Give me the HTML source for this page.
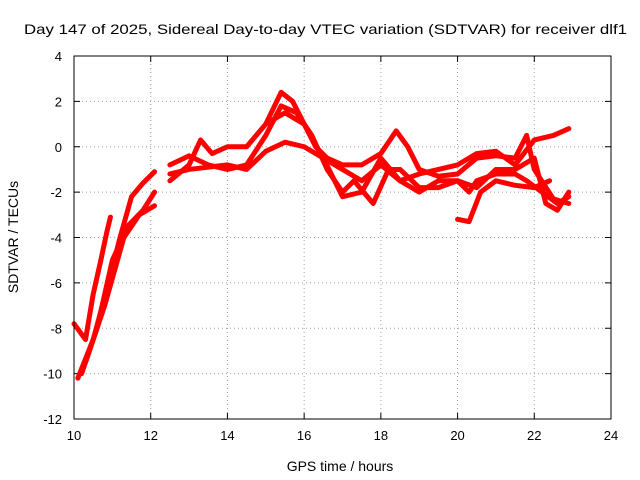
<!DOCTYPE html>
<html><head><meta charset="utf-8"><style>
body{margin:0;background:#fff}
svg{display:block;font-family:"Liberation Sans",sans-serif}
</style></head><body>
<svg id="chart" width="640" height="480" viewBox="0 0 640 480">
<text x="24" y="34" font-size="14" textLength="603" lengthAdjust="spacingAndGlyphs">Day 147 of 2025, Sidereal Day-to-day VTEC variation (SDTVAR) for receiver dlf1</text>
<text x="340" y="471" text-anchor="middle" font-size="14">GPS time / hours</text>
<text transform="translate(18,237) rotate(-90)" text-anchor="middle" font-size="14">SDTVAR / TECUs</text>
<g id="grid"></g><g id="ticks"></g><g id="series"></g>
<rect x="74" y="56" width="537" height="363" fill="none" stroke="#000" stroke-width="1"/>
</svg>
<script>
const xTicks=[10,12,14,16,18,20,22,24];
const yTicks=[4,2,0,-2,-4,-6,-8,-10,-12];
const s1=[[10.0,-7.8],[10.3,-8.5],[10.5,-6.5],[10.7,-5],[10.85,-3.8],[10.95,-3.1]];
const s2=[[10.1,-10.2],[10.5,-8.5],[10.9,-6],[11.2,-4],[11.5,-2.2],[11.8,-1.6],[12.1,-1.1]];
const s3=[[10.2,-10],[10.6,-8],[11,-5],[11.4,-3.5],[11.8,-2.8],[12.1,-2]];
const s4=[[10.3,-9.5],[10.8,-7],[11.3,-4],[11.7,-3],[12.1,-2.6]];
const s5=[[12.5,-1.5],[13,-0.8],[13.3,0.3],[13.6,-0.3],[14,0],[14.5,0],[15,1],[15.4,2.4],[15.7,2],[16,1],[16.3,0],[16.6,-0.5],[17,-0.8],[17.5,-0.8],[18,-0.3],[18.4,0.7],[18.7,0],[19,-1],[19.5,-1.3],[20,-1.2],[20.5,-0.5],[21,-0.4],[21.5,-0.5],[21.8,0.5],[22,-1],[22.5,-2.3],[22.9,-2.5]];
const s6=[[12.5,-0.8],[13,-0.4],[13.5,-0.8],[14,-1],[14.5,-0.8],[15,0.5],[15.4,1.8],[15.8,1.5],[16.2,0.5],[16.6,-1],[17,-2],[17.3,-1.5],[17.8,-2.5],[18.2,-1],[18.5,-1],[19,-1.8],[19.5,-1.8],[20,-1.5],[20.5,-1.8],[21,-1],[21.5,-1],[22,-0.5],[22.3,-2.5],[22.6,-2.8],[22.9,-2]];
const s7=[[12.5,-1.2],[13,-1],[14,-0.8],[14.5,-1],[15,-0.2],[15.5,0.2],[16,0],[16.5,-0.5],[17,-1],[17.5,-1.5],[18,-0.8],[18.5,-1.5],[19,-1.2],[19.5,-1],[20,-0.8],[20.5,-0.3],[21,-0.2],[21.5,-0.8],[22,0.3],[22.5,0.5],[22.9,0.8]];
const s8=[[15,1],[15.5,1.5],[16,1],[16.5,-0.5],[17,-2.2],[17.5,-2],[18,-0.5],[18.5,-1.5],[19,-2],[19.5,-1.5],[20,-1.5],[20.3,-2],[20.5,-1.5],[21,-1.2],[21.5,-1.2],[21.8,-1.5],[22.2,-2],[22.6,-2.5],[22.9,-2.2]];
const s9=[[20,-3.2],[20.3,-3.3],[20.6,-2],[21,-1.5],[21.5,-1.7],[22,-1.8],[22.4,-1.5]];
const allSeries=[s1,s2,s3,s4,s5,s6,s7,s8,s9];
const X=v=>74+(v-10)*(537/14), Y=v=>56+(4-v)*(363/16);
const NS="http://www.w3.org/2000/svg";
const grid=document.getElementById('grid'),ticks=document.getElementById('ticks'),ser=document.getElementById('series');
function mk(t,a,p){const e=document.createElementNS(NS,t);for(const k in a)e.setAttribute(k,a[k]);p.appendChild(e);return e;}
xTicks.forEach(v=>{const x=X(v);
 if(v>10&&v<24){const g=mk('line',{x1:x,x2:x,y1:56,y2:419,stroke:'#a0a0a0','stroke-dasharray':'1,3'},grid);
 
 }
 mk('line',{x1:x,x2:x,y1:419,y2:413,stroke:'#000'},ticks);mk('line',{x1:x,x2:x,y1:56,y2:62,stroke:'#000'},ticks);
 const t=mk('text',{x:x,y:440,'text-anchor':'middle','font-size':13},ticks);t.textContent=v;
 
 });
yTicks.forEach(v=>{const y=Y(v);
 if(v<4&&v>-12){const g=mk('line',{x1:74,x2:611,y1:y,y2:y,stroke:'#a0a0a0','stroke-dasharray':'1,3'},grid);
 
 }
 mk('line',{x1:74,x2:80,y1:y,y2:y,stroke:'#000'},ticks);mk('line',{x1:611,x2:605,y1:y,y2:y,stroke:'#000'},ticks);
 const t=mk('text',{x:62,y:y+5,'text-anchor':'end','font-size':13},ticks);t.textContent=v;
 
 });
allSeries.forEach((s,i)=>{
 const p=mk('polyline',{points:s.map(d=>X(d[0])+','+Y(d[1])).join(' '),fill:'none',stroke:'#ff0000','stroke-width':5,'stroke-linejoin':'round','stroke-linecap':'round'},ser);
 
 
});
</script>
</body></html>
